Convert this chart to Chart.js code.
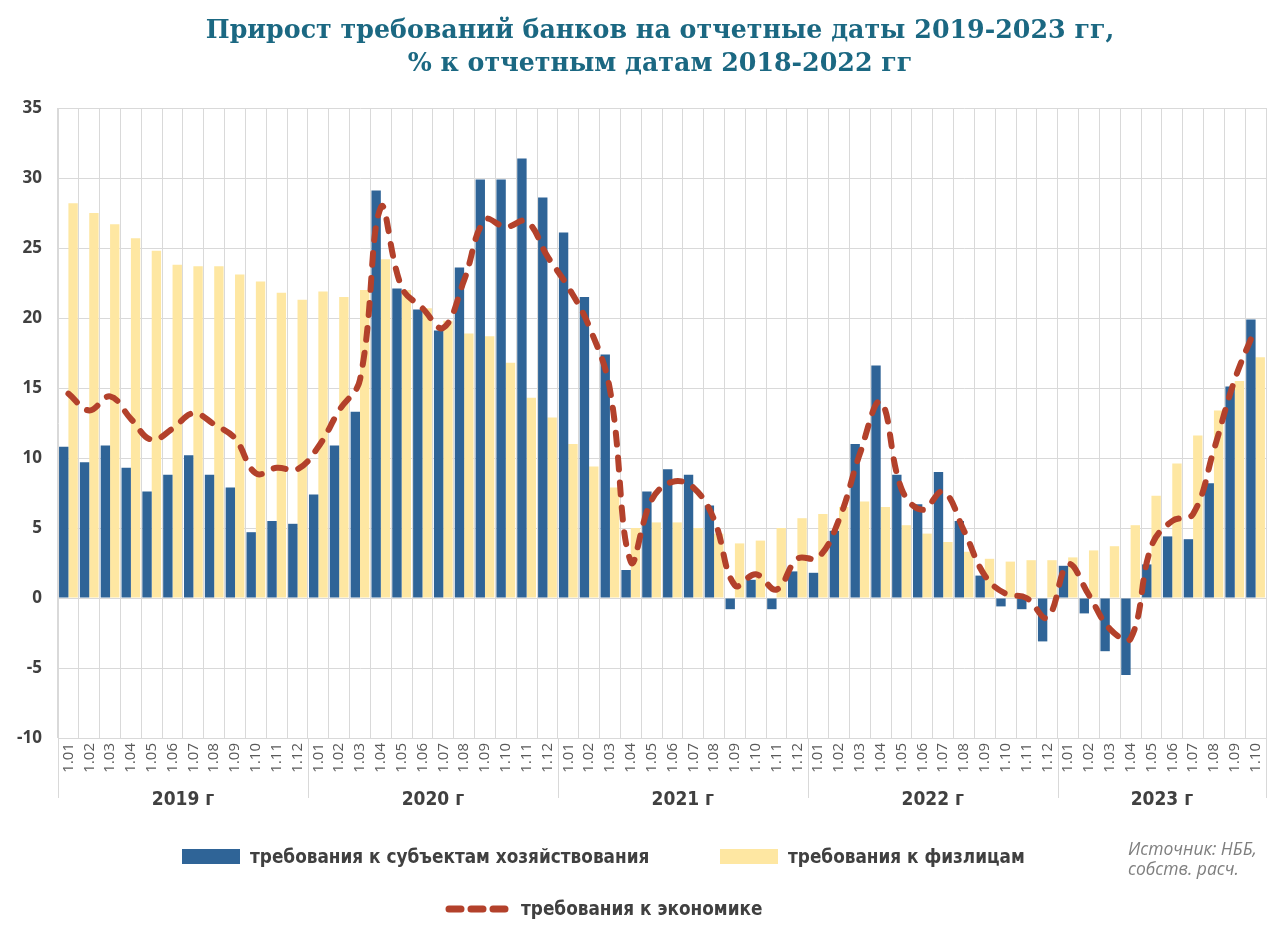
<!DOCTYPE html>
<html lang="ru">
<head>
<meta charset="utf-8">
<title>Прирост требований банков</title>
<script src="https://cdn.jsdelivr.net/npm/chart.js@4.4.0/dist/chart.umd.min.js"></script>
<style>
  html, body { margin: 0; padding: 0; background: #fff; }
  #wrap { position: relative; width: 1280px; height: 935px; overflow: hidden; }
  #chart { position: absolute; left: 0; top: 0; }
  .title {
    position: absolute; left: 0; top: 13px; width: 1320px; text-align: center;
    font-family: "DejaVu Serif", serif; font-weight: bold; font-size: 25.3px;
    line-height: 33px; color: #1b6882;
  }
  .lg { position: absolute; display: flex; align-items: center;
    font-family: "DejaVu Sans Condensed", "DejaVu Sans", sans-serif; font-stretch: condensed;
    font-weight: bold; font-size: 18.8px; color: #404040; white-space: nowrap; }
  .sw { width: 58px; height: 15px; margin-right: 10px; }
  .src { position: absolute; left: 1128px; top: 838px; font-family: "Open Sans", sans-serif;
    font-style: italic; font-size: 17.5px; line-height: 20px; color: #7f7f7f; }
</style>
</head>
<body>
<div id="wrap">
  <canvas id="chart" width="1280" height="935"></canvas>
  <div class="title">Прирост требований банков на отчетные даты 2019-2023 гг,<br>% к отчетным датам 2018-2022 гг</div>
  <div class="lg" style="left:182px; top:846px;"><div class="sw" style="background:#2f6497"></div>требования к субъектам хозяйствования</div>
  <div class="lg" style="left:720px; top:846px;"><div class="sw" style="background:#fee7a2"></div>требования к физлицам</div>
  <div class="lg" style="left:445px; top:898px;">
    <svg width="66" height="14" style="margin-right:10px"><line x1="4" y1="7" x2="62" y2="7" stroke="#b3412b" stroke-width="7" stroke-linecap="round" stroke-dasharray="12 10"/></svg>требования к экономике</div>
  <div class="src">Источник: НББ,<br>собств. расч.</div>
</div>
<script>
const labels = [
  '1.01','1.02','1.03','1.04','1.05','1.06','1.07','1.08','1.09','1.10','1.11','1.12',
  '1.01','1.02','1.03','1.04','1.05','1.06','1.07','1.08','1.09','1.10','1.11','1.12',
  '1.01','1.02','1.03','1.04','1.05','1.06','1.07','1.08','1.09','1.10','1.11','1.12',
  '1.01','1.02','1.03','1.04','1.05','1.06','1.07','1.08','1.09','1.10','1.11','1.12',
  '1.01','1.02','1.03','1.04','1.05','1.06','1.07','1.08','1.09','1.10'
];
const yearNames = ['2019 г', '2020 г', '2021 г', '2022 г', '2023 г'];
const yearSizes = [12, 12, 12, 12, 10];

// требования к субъектам хозяйствования
const business = [
  10.8, 9.7, 10.9, 9.3, 7.6, 8.8, 10.2, 8.8, 7.9, 4.7, 5.5, 5.3,
  7.4, 10.9, 13.3, 29.1, 22.1, 20.6, 19.1, 23.6, 29.9, 29.9, 31.4, 28.6,
  26.1, 21.5, 17.4, 2.0, 7.6, 9.2, 8.8, 6.6, -0.8, 1.3, -0.8, 1.9,
  1.8, 4.8, 11.0, 16.6, 8.8, 6.7, 9.0, 5.5, 1.6, -0.6, -0.8, -3.1,
  2.3, -1.1, -3.8, -5.5, 2.4, 4.4, 4.2, 8.2, 15.1, 19.9
];
// требования к физлицам
const persons = [
  28.2, 27.5, 26.7, 25.7, 24.8, 23.8, 23.7, 23.7, 23.1, 22.6, 21.8, 21.3,
  21.9, 21.5, 22.0, 24.2, 22.0, 20.7, 19.8, 18.9, 18.7, 16.8, 14.3, 12.9,
  11.0, 9.4, 7.9, 5.0, 5.4, 5.4, 5.0, 4.6, 3.9, 4.1, 5.0, 5.7,
  6.0, 6.5, 6.9, 6.5, 5.2, 4.6, 4.0, 3.3, 2.8, 2.6, 2.7, 2.7,
  2.9, 3.4, 3.7, 5.2, 7.3, 9.6, 11.6, 13.4, 15.5, 17.2
];
// требования к экономике
const economy = [
  14.6, 13.4, 14.4, 12.8, 11.3, 12.1, 13.2, 12.4, 11.4, 8.9, 9.3, 9.2,
  10.8, 13.4, 15.6, 27.9, 22.2, 20.7, 19.3, 22.7, 27.0, 26.5, 26.9, 24.4,
  22.2, 19.4, 14.9, 2.6, 7.0, 8.3, 7.9, 5.6, 0.9, 1.7, 0.6, 2.8,
  2.9, 5.6, 10.3, 14.0, 7.8, 6.3, 7.6, 4.8, 1.6, 0.3, 0.0, -1.4,
  2.4, 0.2, -2.2, -2.9, 3.7, 5.5, 6.0, 10.6, 15.6, 19.3
];

// подписи годов и разделители под осью
const yearGroupsPlugin = {
  id: 'yearGroups',
  afterDraw(chart) {
    const x = chart.scales.x;
    const ctx = chart.ctx;
    const step = x.getPixelForValue(1) - x.getPixelForValue(0);
    const bottom = chart.chartArea.bottom;
    ctx.save();
    ctx.strokeStyle = '#d9d9d9';
    ctx.lineWidth = 1;
    ctx.fillStyle = '#404040';
    ctx.font = 'bold 19px "DejaVu Sans Condensed", "DejaVu Sans", sans-serif';
    ctx.textAlign = 'center';
    ctx.textBaseline = 'middle';
    let start = 0;
    yearSizes.forEach((n, i) => {
      const left = x.getPixelForValue(start) - step / 2;
      const right = x.getPixelForValue(start + n - 1) + step / 2;
      ctx.beginPath();
      ctx.moveTo(Math.round(left) + 0.5, bottom);
      ctx.lineTo(Math.round(left) + 0.5, 798);
      if (i === yearSizes.length - 1) {
        ctx.moveTo(Math.round(right) + 0.5, bottom);
        ctx.lineTo(Math.round(right) + 0.5, 798);
      }
      ctx.stroke();
      ctx.fillText(yearNames[i], (left + right) / 2, 800);
      start += n;
    });
    ctx.restore();
  }
};

new Chart(document.getElementById('chart'), {
  data: {
    labels: labels,
    datasets: [
      {
        type: 'line',
        label: 'требования к экономике',
        data: economy,
        borderColor: '#b3412b',
        borderWidth: 6,
        borderDash: [12, 13],
        borderCapStyle: 'round',
        pointRadius: 0,
        tension: 0.4,
        order: 0
      },
      {
        type: 'bar',
        label: 'требования к субъектам хозяйствования',
        data: business,
        backgroundColor: '#2f6497',
        categoryPercentage: 0.9,
        barPercentage: 1.0,
        order: 1
      },
      {
        type: 'bar',
        label: 'требования к физлицам',
        data: persons,
        backgroundColor: '#fee7a2',
        categoryPercentage: 0.9,
        barPercentage: 1.0,
        order: 2
      }
    ]
  },
  options: {
    responsive: false,
    animation: false,
    layout: { padding: { top: 108, right: 14, left: 0, bottom: 0 } },
    plugins: {
      legend: { display: false },
      tooltip: { enabled: false }
    },
    scales: {
      x: {
        afterFit(scale) { scale.height = 197; },
        grid: { color: '#d9d9d9', drawTicks: false, offset: true },
        border: { color: '#d9d9d9' },
        ticks: {
          autoSkip: false, minRotation: 90, maxRotation: 90, padding: 5,
          color: '#595959', font: { family: '"Open Sans", sans-serif', size: 15 }
        }
      },
      y: {
        min: -10, max: 35,
        afterFit(scale) { scale.width = 58; },
        grid: { color: '#d9d9d9', drawTicks: false },
        border: { color: '#d9d9d9' },
        ticks: {
          stepSize: 5, padding: 16, color: '#404040',
          font: { family: '"Open Sans", sans-serif', size: 17, weight: 'bold' }
        }
      }
    }
  },
  plugins: [yearGroupsPlugin]
});
</script>
</body>
</html>
